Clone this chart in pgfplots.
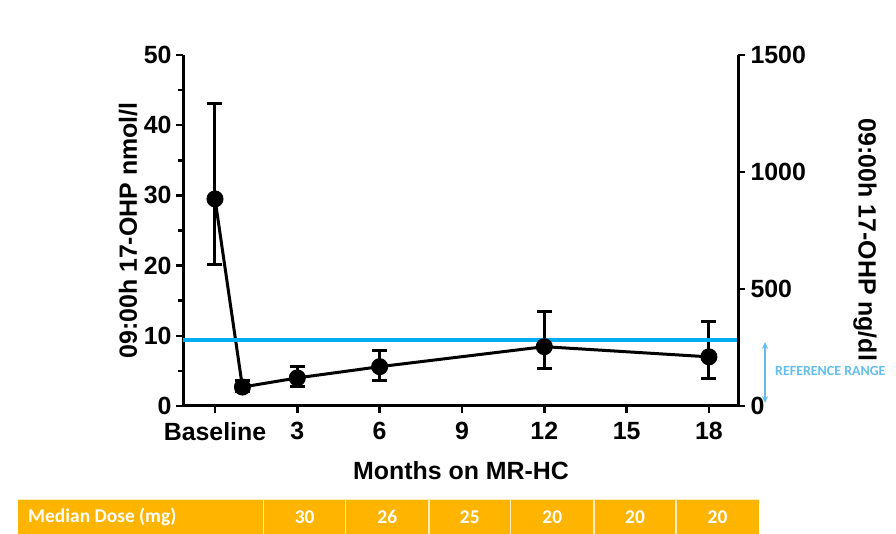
\documentclass[border=0pt]{standalone}
\usepackage{pgfplots}
\pgfplotsset{compat=1.18}
\usepackage{fontspec}
\setmainfont{Liberation Sans}
\newfontfamily\calib{Carlito}
\usetikzlibrary{arrows.meta}
\definecolor{refblue}{RGB}{0,174,239}
\definecolor{arrowblue}{RGB}{100,190,235}
\definecolor{tableorange}{RGB}{255,181,0}

\begin{document}
\begin{tikzpicture}[x=1bp,y=1bp]
\useasboundingbox (0,0) rectangle (896,534);
\fill[white] (0,0) rectangle (896,534);
\begin{axis}[
 at={(183bp,128bp)}, anchor=south west,
 scale only axis, width=555bp, height=351bp,
 xmin=-1.166, xmax=19.06, ymin=0, ymax=50,
 axis x line=bottom, axis y line=left,
 axis line style={-, line width=3bp},
 tick align=outside,
 xtick={0,3,...,18}, xticklabels={Baseline,3,6,9,12,15,18},
 ytick={0,10,...,50}, minor ytick={5,15,...,45},
 major tick length=7bp, minor tick length=5bp,
 tick style={line width=2.5bp, black},
 ticklabel style={font=\bfseries\fontsize{25}{28}\selectfont},
 xticklabel style={yshift=-6bp},
 yticklabel style={xshift=-1bp},
 /pgf/number format/assume math mode=true,
 xlabel={Months on MR-HC}, ylabel={09:00h 17-OHP nmol/l},
 label style={font=\bfseries\fontsize{25}{28}\selectfont},
 xlabel style={at={(axis description cs:0.501,-0.185)}, anchor=center},
 ylabel style={at={(axis description cs:-0.099,0.5)}, anchor=center},
 clip=false,
]
\addplot[black, line width=3bp, mark=*, mark size=7bp,
  mark options={solid, fill=black},
  error bars/.cd, y dir=both, y explicit,
  error bar style={line width=3bp, black},
  error mark=|,
  error mark options={mark size=7.5bp, line width=3bp, black}]
coordinates {
 (0,29.5) += (0,13.6) -= (0,9.4)
 (1,2.7) += (0,1.0) -= (0,0.7)
 (3,4.0) += (0,1.6) -= (0,1.25)
 (6,5.6) += (0,2.3) -= (0,1.9)
 (12,8.45) += (0,4.95) -= (0,3.05)
 (18,7.0) += (0,5.1) -= (0,3.1)
};
\addplot[refblue, line width=4bp] coordinates {(-1.166,9.4) (19.06,9.4)};
\end{axis}
\begin{axis}[
 at={(183bp,128bp)}, anchor=south west,
 scale only axis, width=555bp, height=351bp,
 xmin=-1.166, xmax=19.06, ymin=0, ymax=1500,
 axis x line=none, axis y line=right,
 axis line style={-, line width=3bp},
 tick align=outside,
 ytick={0,500,1000,1500},
 major tick length=7bp,
 tick style={line width=2.5bp, black},
 ticklabel style={font=\bfseries\fontsize{25}{28}\selectfont},
 yticklabel style={xshift=2bp},
 /pgf/number format/assume math mode=true,
 /pgf/number format/set thousands separator={},
 ylabel={09:00h 17-OHP ng/dl},
 label style={font=\bfseries\fontsize{25}{28}\selectfont},
 ylabel style={at={(axis description cs:1.229,0.473)}, anchor=center, rotate=180},
 clip=false,
]
\addplot[draw=none] coordinates {(0,0)};
\end{axis}
% reference range annotation
\draw[arrowblue, line width=1.5bp, {Stealth[length=7bp,width=6bp]}-{Stealth[length=7bp,width=6bp]}] (765,192) -- (765,131);
\node[anchor=west, text=arrowblue, font=\calib\bfseries\fontsize{14}{16}\selectfont, inner sep=0] at (775,163) {REFERENCE RANGE};
% dose table
\fill[tableorange] (18,0) rectangle (759,35);
\foreach \xx in {263.5,345.7,429,510.7,594,676}{
  \draw[white!75!tableorange, line width=1.2bp] (\xx,0) -- (\xx,35);
}
\draw[white!70!tableorange, line width=0.8bp] (18,35) -- (759,35);
\node[anchor=west, text=white, font=\calib\bfseries\fontsize{19.5}{22}\selectfont, inner sep=0] at (28,17) {Median Dose (mg)};
\foreach \cx/\val in {304.6/30,387.3/26,469.8/25,552.3/20,635/20,717.5/20}{
  \node[text=white, font=\calib\bfseries\fontsize{19.5}{22}\selectfont, inner sep=0] at (\cx,17) {\val};
}
\end{tikzpicture}
\end{document}
